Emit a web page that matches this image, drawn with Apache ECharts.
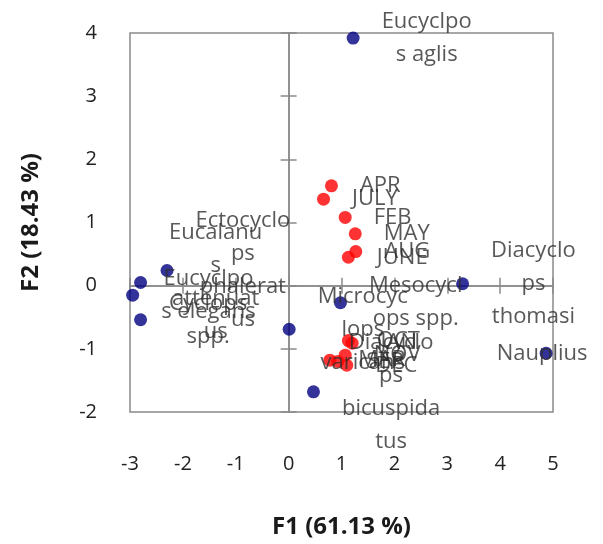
<!DOCTYPE html>
<html>
<head>
<meta charset="utf-8">
<script src="https://cdn.jsdelivr.net/npm/echarts@6/dist/echarts.min.js"></script>
<style>
  html, body { margin: 0; padding: 0; background: #fff; }
  #main { width: 603px; height: 544px; }
</style>
</head>
<body>
<div id="main"></div>
<script>
// 物种（蓝点）— 标签按原图的换行方式
var speciesNames = [
    'Eucyclpo\ns aglis',
    'Ectocyclo\nps\nphalerat\nus',
    'Eucalanu\ns\nattenuat\nus',
    'Eucyclpo\ns elegans',
    'Cyclops\nspp.',
    'Microcyc\nlops\nvaricans',
    'Mesocycl\nops spp.',
    'Diacyclo\nps\nthomasi',
    'Nauplius',
    'Diacyclo\nps\nbicuspida\ntus'
];
var speciesF1 = [1.22, -2.30, -2.80, -2.95, -2.80, 0.01, 0.98, 3.29, 4.87, 0.47];
var speciesF2 = [3.92, 0.24, 0.05, -0.15, -0.54, -0.69, -0.27, 0.03, -1.07, -1.68];

// 月份（红点）
var monthNames = ['JAN', 'FEB', 'MAR', 'APR', 'MAY', 'JUNE', 'JULY', 'AUG', 'SEP', 'OCT', 'NOV', 'DEC'];
var monthF1 = [1.20, 1.07, 0.78, 0.81, 1.26, 1.13, 0.66, 1.27, 0.93, 1.13, 1.07, 1.10];
var monthF2 = [-0.91, 1.08, -1.18, 1.58, 0.82, 0.45, 1.37, 0.54, -1.20, -0.87, -1.10, -1.26];

var xTicks = [-3, -2, -1, 0, 1, 2, 3, 4, 5];
var yTicks = [-2, -1, 0, 1, 2, 3, 4];

// labels centred on the dot instead of to the right
var centredLabels = ['Nauplius'];

var FONT = 'Open Sans';
var TXT = '#2e2e2e';
var AX = '#8a8a8a';

function toItems(names, xs, ys) {
    return names.map(function (n, i) {
        var item = {name: n, value: [xs[i], ys[i]]};
        if (centredLabels.indexOf(n) != -1) {
            item.label = {position: 'inside', offset: [-4, 0]};
        }
        return item;
    });
}

function richLabel(p) {
    return p.name.split('\n').map(function (s) { return '{c|' + s + '}'; }).join('\n');
}

var labelStyle = {
    show: true,
    position: 'right',
    distance: 22,
    formatter: richLabel,
    rich: {
        c: {align: 'center', fontFamily: FONT, fontSize: 22, lineHeight: 33, color: TXT}
    }
};

var xMin = xTicks[0], xMax = xTicks[xTicks.length - 1];
var yMin = yTicks[0], yMax = yTicks[yTicks.length - 1];

function zeroAxis(inside) {
    return {
        axisLine: {show: true, onZero: true, lineStyle: {color: AX, width: 1.5}},
        axisTick: {show: true, inside: inside, length: 8, lineStyle: {color: AX, width: 1.5}},
        axisLabel: {show: false},
        splitLine: {show: false}
    };
}

var xBase = {type: 'value', min: xMin, max: xMax, interval: 1};
var yBase = {type: 'value', min: yMin, max: yMax, interval: 1};

var myChart = echarts.init(document.getElementById('main'));
myChart.setOption({
    animation: false,
    grid: {
        left: 130, top: 33, right: 50, bottom: 130,
        show: true, borderColor: AX, borderWidth: 1.5, backgroundColor: 'transparent'
    },
    xAxis: [
        Object.assign({}, xBase, {
            position: 'bottom',
            axisLine: {show: false, onZero: false},
            axisTick: {show: false},
            splitLine: {show: false},
            axisLabel: {margin: 42, fontFamily: FONT, fontSize: 20, color: '#222'},
            name: 'F1 (61.13 %)',
            nameLocation: 'middle',
            nameGap: 103,
            nameTextStyle: {fontFamily: FONT, fontSize: 24, fontWeight: 'bold', color: '#1a1a1a'}
        }),
        Object.assign({}, xBase, zeroAxis(true)),
        Object.assign({}, xBase, zeroAxis(false))
    ],
    yAxis: [
        Object.assign({}, yBase, {
            position: 'left',
            axisLine: {show: false, onZero: false},
            axisTick: {show: false},
            splitLine: {show: false},
            axisLabel: {margin: 33, fontFamily: FONT, fontSize: 20, color: '#222'},
            name: 'F2 (18.43 %)',
            nameLocation: 'middle',
            nameGap: 87,
            nameTextStyle: {fontFamily: FONT, fontSize: 24, fontWeight: 'bold', color: '#1a1a1a'}
        }),
        Object.assign({}, yBase, zeroAxis(true)),
        Object.assign({}, yBase, zeroAxis(false))
    ],
    series: [
        {
            name: 'species',
            type: 'scatter',
            symbolSize: 13,
            itemStyle: {color: '#000080'},
            label: labelStyle,
            data: toItems(speciesNames, speciesF1, speciesF2)
        },
        {
            name: 'months',
            type: 'scatter',
            symbolSize: 13,
            itemStyle: {color: '#ff0000'},
            label: labelStyle,
            data: toItems(monthNames, monthF1, monthF2)
        }
    ]
});
</script>
</body>
</html>
